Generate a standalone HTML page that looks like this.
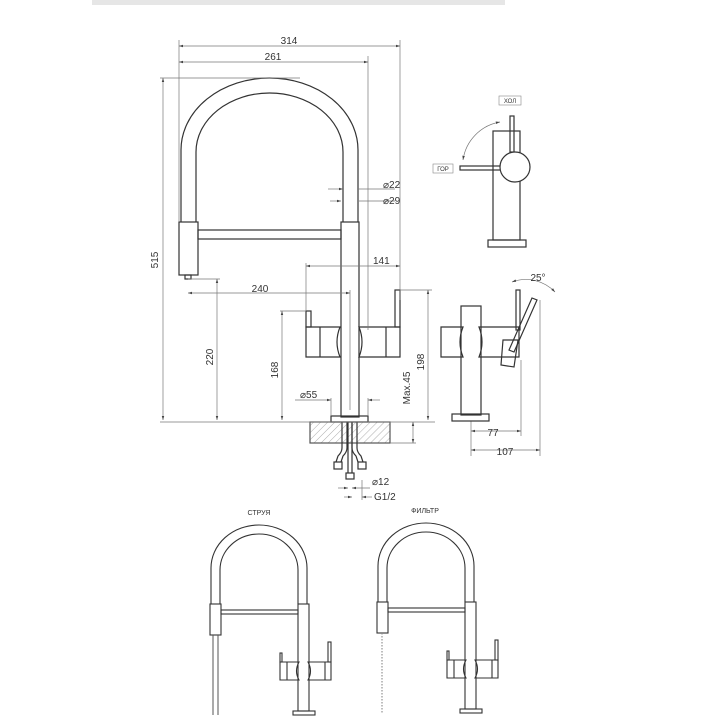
<!DOCTYPE html>
<html><head><meta charset="utf-8"><style>
html,body{margin:0;padding:0;background:#fff;width:720px;height:720px;overflow:hidden}
svg{display:block}
text{font-family:"Liberation Sans",sans-serif;fill:#333}
</style></head><body>
<svg width="720" height="720" viewBox="0 0 720 720" xmlns="http://www.w3.org/2000/svg">
<defs>
<pattern id="h" width="5" height="5" patternUnits="userSpaceOnUse" patternTransform="rotate(45)">
<line x1="0" y1="0" x2="0" y2="5" stroke="#999" stroke-width="0.8"/></pattern>
<marker id="a" viewBox="0 0 10 10" refX="10" refY="5" markerWidth="6" markerHeight="6" orient="auto-start-reverse"><path d="M0,2 L10,5 L0,8z" fill="#444"/></marker>
</defs>
<rect x="92" y="0" width="413" height="5" fill="#e6e6e6"/>
<g fill="none" stroke="#333" stroke-width="1.2">
<!-- main faucet -->
<path d="M181,222 L181,150 A88.5,72 0 0 1 358,150 L358,222"/>
<path d="M196,222 L196,152 A73.5,59 0 0 1 343,152 L343,222"/>
<rect x="179" y="222" width="19" height="53"/>
<rect x="185" y="275" width="6" height="4"/>
<rect x="198" y="230" width="143" height="9"/>
<rect x="341" y="222" width="18" height="195"/>
<path d="M306,327 L340,327 Q334,342 340,357 L306,357 Z"/>
<line x1="320" y1="327" x2="320" y2="357"/>
<rect x="306" y="311" width="5" height="16"/>
<path d="M400,327 L359,327 Q365,342 359,357 L400,357 Z"/>
<line x1="386" y1="327" x2="386" y2="357"/>
<rect x="395" y="290" width="5" height="37"/>
<rect x="331" y="416" width="37" height="6"/>
<rect x="310" y="422" width="80" height="21" fill="url(#h)" stroke="#555"/>
<path d="M342,422 L342,448 Q342,452 338,456 L336,462 M347,422 L347,448 Q347,452 343,456 L341,462"/>
<path d="M357,422 L357,448 Q357,452 361,456 L363,462 M352,422 L352,448 Q352,452 356,456 L358,462"/>
<rect x="334" y="462" width="8" height="7"/><rect x="358" y="462" width="8" height="7"/>
<line x1="348" y1="422" x2="348" y2="473"/><line x1="352" y1="422" x2="352" y2="473"/>
<rect x="346" y="473" width="8" height="6"/>
</g>
<g fill="none" stroke="#777" stroke-width="0.7">
<line x1="179" y1="40" x2="179" y2="222"/><line x1="400" y1="40" x2="400" y2="300"/>
<line x1="368" y1="56" x2="368" y2="330"/>
<line x1="179" y1="46" x2="400" y2="46" marker-start="url(#a)" marker-end="url(#a)"/>
<line x1="179" y1="62" x2="368" y2="62" marker-start="url(#a)" marker-end="url(#a)"/>
<line x1="160" y1="78" x2="300" y2="78"/>
<line x1="163" y1="78" x2="163" y2="420" marker-start="url(#a)" marker-end="url(#a)"/>
<line x1="160" y1="422" x2="435" y2="422"/>
<line x1="328" y1="189" x2="343" y2="189" marker-end="url(#a)"/><line x1="358" y1="189" x2="395" y2="189"/>
<line x1="341" y1="201" x2="330" y2="201" marker-start="url(#a)"/><line x1="359" y1="201" x2="395" y2="201"/>
<line x1="306" y1="266" x2="400" y2="266" marker-start="url(#a)" marker-end="url(#a)"/>
<line x1="306" y1="263" x2="306" y2="311"/>
<line x1="188" y1="279" x2="220" y2="279"/>
<line x1="188" y1="293" x2="350" y2="293" marker-start="url(#a)" marker-end="url(#a)"/>
<line x1="350" y1="290" x2="350" y2="410"/>
<line x1="217" y1="279" x2="217" y2="420" marker-start="url(#a)" marker-end="url(#a)"/>
<line x1="280" y1="311" x2="306" y2="311"/>
<line x1="282" y1="311" x2="282" y2="420" marker-start="url(#a)" marker-end="url(#a)"/>
<line x1="295" y1="400" x2="331" y2="400" marker-end="url(#a)"/><line x1="368" y1="400" x2="380" y2="400" marker-start="url(#a)"/>
<line x1="331" y1="398" x2="331" y2="416"/><line x1="368" y1="398" x2="368" y2="416"/>
<line x1="400" y1="290" x2="432" y2="290"/>
<line x1="428" y1="290" x2="428" y2="420" marker-start="url(#a)" marker-end="url(#a)"/>
<line x1="413" y1="422" x2="413" y2="443" marker-start="url(#a)" marker-end="url(#a)"/>
<line x1="390" y1="443" x2="416" y2="443"/>
<line x1="338" y1="488" x2="348" y2="488" marker-end="url(#a)"/><line x1="352" y1="488" x2="370" y2="488" marker-start="url(#a)"/>
<line x1="344" y1="497" x2="352" y2="497" marker-end="url(#a)"/><line x1="362" y1="497" x2="372" y2="497" marker-start="url(#a)"/>
<line x1="362" y1="480" x2="362" y2="500"/>
<!-- right views dims -->
<line x1="540" y1="300" x2="540" y2="456"/>
<line x1="471" y1="421" x2="471" y2="456"/>
<line x1="471" y1="431" x2="521" y2="431" marker-start="url(#a)" marker-end="url(#a)"/>
<line x1="471" y1="450" x2="540" y2="450" marker-start="url(#a)" marker-end="url(#a)"/>
<line x1="521" y1="360" x2="521" y2="436"/>
<path d="M512,282 A40,40 0 0 1 555,292" marker-start="url(#a)" marker-end="url(#a)"/>
<path d="M500,122 A45,45 0 0 0 463,160" marker-start="url(#a)" marker-end="url(#a)"/>
</g>
<g fill="none" stroke="#333" stroke-width="1.2">
<!-- top side view -->
<rect x="493" y="131" width="27" height="109"/>
<rect x="488" y="240" width="38" height="7"/>
<rect x="510" y="116" width="4" height="36"/>
<rect x="460" y="166" width="42" height="4"/>
<circle cx="515" cy="167" r="15" fill="#fff"/>
<!-- lower side view -->
<rect x="461" y="306" width="20" height="109"/>
<path d="M441,327 L463,327 Q457,342 463,357 L441,357 Z"/>
<path d="M479,327 L519,327 L519,357 L500,357 Q486,357 479,357 Q485,342 479,327Z"/>
<rect x="516" y="290" width="4" height="40"/>
<path d="M532,298 L537,300 L514,352 L509,350 Z"/>
<path d="M503,340 L518,340 L514,367 L501,365 Z"/>
<rect x="452" y="414" width="37" height="7"/>
</g>
<rect x="499" y="96" width="22" height="9" fill="none" stroke="#888" stroke-width="0.6"/>
<rect x="433" y="164" width="20" height="9" fill="none" stroke="#888" stroke-width="0.6"/>
<text x="510" y="103" font-size="6" text-anchor="middle">ХОЛ</text>
<text x="443" y="171" font-size="6" text-anchor="middle">ГОР</text>
<!-- small faucets -->
<g id="sf" fill="none" stroke="#333" stroke-width="1.1">
<path d="M211,604 L211,568 A48,43 0 0 1 307,568 L307,604"/>
<path d="M220,604 L220,570 A39,36 0 0 1 298,570 L298,604"/>
<rect x="210" y="604" width="11" height="31"/>
<rect x="221" y="610" width="77" height="4"/>
<rect x="298" y="604" width="11" height="107"/>
<path d="M280,662 L299,662 Q294,671 299,680 L280,680Z"/><line x1="287" y1="662" x2="287" y2="680"/>
<path d="M331,662 L308,662 Q313,671 308,680 L331,680Z"/><line x1="325" y1="662" x2="325" y2="680"/>
<rect x="280" y="653" width="2" height="9"/><rect x="328" y="642" width="3" height="20"/>
<rect x="293" y="711" width="22" height="4"/>
</g>
<g fill="none" stroke="#555" stroke-width="1">
<line x1="213" y1="635" x2="213" y2="715"/><line x1="218" y1="635" x2="218" y2="715"/>
</g>
<g transform="translate(167,-2)" fill="none" stroke="#333" stroke-width="1.1">
<path d="M211,604 L211,568 A48,43 0 0 1 307,568 L307,604"/>
<path d="M220,604 L220,570 A39,36 0 0 1 298,570 L298,604"/>
<rect x="210" y="604" width="11" height="31"/>
<rect x="221" y="610" width="77" height="4"/>
<rect x="298" y="604" width="11" height="107"/>
<path d="M280,662 L299,662 Q294,671 299,680 L280,680Z"/><line x1="287" y1="662" x2="287" y2="680"/>
<path d="M331,662 L308,662 Q313,671 308,680 L331,680Z"/><line x1="325" y1="662" x2="325" y2="680"/>
<rect x="280" y="653" width="2" height="9"/><rect x="328" y="642" width="3" height="20"/>
<rect x="293" y="711" width="22" height="4"/>
<line x1="215" y1="635" x2="215" y2="715" stroke="#888" stroke-dasharray="1.5,1.5"/>
</g>
<g font-size="10">
<text x="289" y="44" text-anchor="middle">314</text>
<text x="273" y="60" text-anchor="middle">261</text>
<text x="383" y="188">⌀22</text>
<text x="383" y="204">⌀29</text>
<text x="373" y="264">141</text>
<text x="260" y="292" text-anchor="middle">240</text>
<text x="300" y="398">⌀55</text>
<text x="372" y="485">⌀12</text>
<text x="374" y="500">G1/2</text>
<text x="493" y="436" text-anchor="middle">77</text>
<text x="505" y="455" text-anchor="middle">107</text>
<text x="538" y="281" text-anchor="middle">25°</text>
<text transform="translate(158,260) rotate(-90)" text-anchor="middle">515</text>
<text transform="translate(213,357) rotate(-90)" text-anchor="middle">220</text>
<text transform="translate(278,370) rotate(-90)" text-anchor="middle">168</text>
<text transform="translate(410,388) rotate(-90)" text-anchor="middle">Max.45</text>
<text transform="translate(424,362) rotate(-90)" text-anchor="middle">198</text>
</g>
<text x="259" y="515" font-size="7" text-anchor="middle">СТРУЯ</text>
<text x="425" y="513" font-size="7" text-anchor="middle">ФИЛЬТР</text>
</svg>
</body></html>
